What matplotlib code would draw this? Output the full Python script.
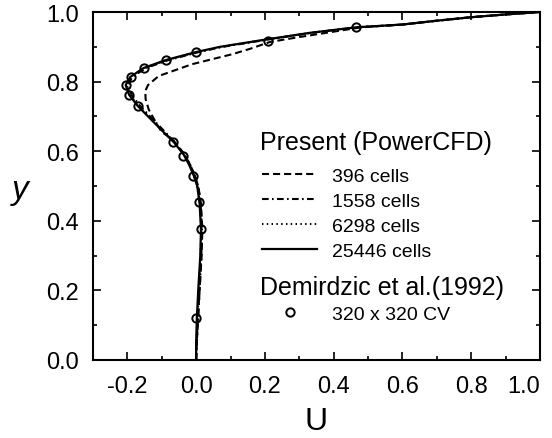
import matplotlib
matplotlib.use('Agg')
import matplotlib.pyplot as plt

plt.rcParams['font.family'] = ['Liberation Sans', 'DejaVu Sans']

########################################################################
# data

# 25446 cells (finest grid)
y_fine = [0.0, 0.05, 0.12, 0.2, 0.3, 0.376, 0.45, 0.5, 0.53, 0.56, 0.59, 0.626,
          0.66, 0.7, 0.73, 0.762, 0.79, 0.813, 0.839, 0.862, 0.885, 0.9, 0.922,
          0.94, 0.956, 0.964, 0.975, 0.985, 0.993, 1.0]
u_fine = [0.0, 0.0, 0.002, 0.006, 0.012, 0.014, 0.01, 0.003, -0.007, -0.02,
          -0.036, -0.065, -0.1, -0.14, -0.17, -0.195, -0.205, -0.192, -0.153,
          -0.088, 0.0, 0.07, 0.21, 0.33, 0.465, 0.6, 0.7, 0.8, 0.9, 1.0]

# 6298 cells
y_6298 = [0.0, 0.05, 0.12, 0.2, 0.3, 0.376, 0.45, 0.5, 0.53, 0.56, 0.59, 0.626,
          0.66, 0.7, 0.73, 0.762, 0.79, 0.813, 0.839, 0.862, 0.885, 0.9, 0.922,
          0.94, 0.956, 0.964, 0.975, 0.985, 0.993, 1.0]
u_6298 = [0.0, 0.001, 0.004, 0.008, 0.013, 0.015, 0.011, 0.004, -0.006, -0.019,
          -0.035, -0.064, -0.098, -0.138, -0.168, -0.192, -0.202, -0.19, -0.15,
          -0.085, 0.003, 0.072, 0.212, 0.332, 0.466, 0.6, 0.7, 0.8, 0.9, 1.0]

# 1558 cells
y_1558 = [0.0, 0.05, 0.12, 0.2, 0.3, 0.376, 0.45, 0.5, 0.53, 0.56, 0.59, 0.626,
          0.66, 0.7, 0.73, 0.762, 0.79, 0.813, 0.839, 0.862, 0.885, 0.9, 0.922,
          0.94, 0.956, 0.964, 0.975, 0.985, 0.993, 1.0]
u_1558 = [0.0, 0.002, 0.006, 0.01, 0.015, 0.017, 0.013, 0.006, -0.004, -0.017,
          -0.033, -0.062, -0.095, -0.134, -0.163, -0.188, -0.198, -0.186, -0.146,
          -0.08, 0.008, 0.078, 0.215, 0.335, 0.468, 0.6, 0.7, 0.8, 0.9, 1.0]

# 396 cells (coarse grid)
y_396 = [0.0, 0.05, 0.12, 0.2, 0.3, 0.376, 0.45, 0.5, 0.53, 0.56, 0.59, 0.626,
         0.644, 0.655, 0.684, 0.72, 0.75, 0.773, 0.79, 0.816, 0.85, 0.879, 0.894,
         0.914, 0.928, 0.942, 0.956, 0.964, 0.975, 0.985, 0.993, 1.0]
u_396 = [0.0, 0.002, 0.005, 0.01, 0.016, 0.018, 0.014, 0.006, -0.004, -0.017,
         -0.034, -0.062, -0.083, -0.1, -0.118, -0.138, -0.147, -0.148, -0.14,
         -0.109, -0.012, 0.106, 0.156, 0.215, 0.30, 0.39, 0.48, 0.6, 0.7, 0.8,
         0.9, 1.0]

# Demirdzic et al. (1992), 320 x 320 CV
u_ref = [0.0, 0.014, 0.009, -0.009, -0.038, -0.067, -0.17, -0.195, -0.204,
         -0.19, -0.153, -0.088, 0.0, 0.209, 0.465]
y_ref = [0.121, 0.376, 0.454, 0.529, 0.586, 0.626, 0.73, 0.762, 0.79, 0.813,
         0.839, 0.862, 0.885, 0.917, 0.956]

x_ticks = [-0.2, 0.0, 0.2, 0.4, 0.6, 0.8, 1.0]
x_ticklabels = ['-0.2', '0.0', '0.2', '0.4', '0.6', '0.8', '1.0']
x_minor = [-0.3, -0.1, 0.1, 0.3, 0.5, 0.7, 0.9]
y_ticks = [0.0, 0.2, 0.4, 0.6, 0.8, 1.0]
y_ticklabels = ['0.0', '0.2', '0.4', '0.6', '0.8', '1.0']
y_minor = [0.1, 0.3, 0.5, 0.7, 0.9]

########################################################################

fig = plt.figure(figsize=(5.52, 4.39), dpi=100)
ax = fig.add_axes([93 / 552.0, 1 - 361 / 439.0, 447 / 552.0, 348 / 439.0])

l396, = ax.plot(u_396, y_396, color='black', lw=1.5, dashes=(3.4, 1.9), label='396 cells')
l1558, = ax.plot(u_1558, y_1558, color='black', lw=1.5, dashes=(3.2, 1.6, 0.8, 1.6), label='1558 cells')
l6298, = ax.plot(u_6298, y_6298, color='black', lw=1.5, dashes=(0.7, 1.6), label='6298 cells')
lfine, = ax.plot(u_fine, y_fine, color='black', lw=1.6, label='25446 cells')
lref, = ax.plot(u_ref, y_ref, 'o', mfc='none', mec='black', ms=6, mew=1.4,
                label='320 x 320 CV')

ax.set_xlim(-0.3, 1.0)
ax.set_ylim(0.0, 1.0)
ax.set_xticks(x_ticks)
ax.set_xticklabels(x_ticklabels)
ax.set_xticks(x_minor, minor=True)
ax.set_yticks(y_ticks)
ax.set_yticklabels(y_ticklabels)
ax.set_yticks(y_minor, minor=True)
ax.get_xticklabels()[-1].set_horizontalalignment('right')
ax.tick_params(which='both', direction='in', top=True, right=True, width=1.2)
ax.tick_params(which='major', length=6, labelsize=17, pad=11)
ax.tick_params(which='minor', length=3)
ax.tick_params(axis='y', pad=10)
for s in ax.spines.values():
    s.set_linewidth(1.5)

ax.set_xlabel('U', fontsize=23, labelpad=6)
ax.set_ylabel('y', fontsize=24, style='italic', rotation=0, va='center')
ax.yaxis.set_label_coords(-0.163, 0.49)

# legend titles as plain text, legends below them
ax.text(0.3736, 0.626, 'Present (PowerCFD)', transform=ax.transAxes,
        fontsize=18, va='center', ha='left')
ax.text(0.3736, 0.21, 'Demirdzic et al.(1992)', transform=ax.transAxes,
        fontsize=18, va='center', ha='left')

leg1 = ax.legend(handles=[l396, l1558, l6298, lfine], loc='upper left',
                 bbox_to_anchor=(0.3615, 0.577), frameon=False, fontsize=14,
                 handlelength=2.8, handletextpad=0.77, labelspacing=0.38,
                 borderaxespad=0.0)
ax.add_artist(leg1)
ax.legend(handles=[lref], loc='upper left', bbox_to_anchor=(0.3615, 0.18),
          frameon=False, fontsize=14, handlelength=2.8, handletextpad=0.77,
          borderaxespad=0.0)

fig.savefig('out.png', dpi=100)
